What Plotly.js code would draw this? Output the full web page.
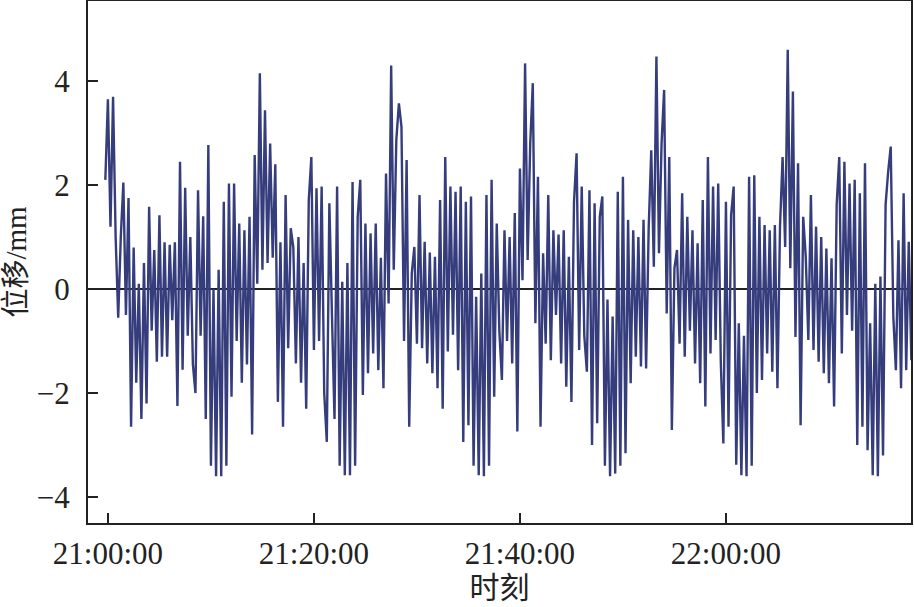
<!DOCTYPE html>
<html>
<head>
<meta charset="utf-8">
<script src="https://cdn.plot.ly/plotly-3.0.1.min.js"></script>
<style>html,body{margin:0;padding:0;background:#fff;}#chart{width:914px;height:607px;}</style>
</head>
<body>
<div id="chart"></div>
<script>
// Sampling of the displacement record
const startTime = '2000-01-01 20:59:45';
const stepSeconds = 15;

const seg1 = [2.1, 3.65, 1.2, 3.7, 1.0, -0.55, 1.0, 2.05, -0.5, 1.75, -2.65, 0.8, -1.8, 0.1, -2.5, 0.5, -2.2, 1.58, -0.8, 0.75, -1.4, 1.42, -1.3, 0.9, -1.3, 0.85, -0.6, 0.9, -2.25, 2.45, -1.55, 1.95, -0.9];
const seg2 = [1.0, -1.45, -2.0, 1.9, -0.9, 1.4, -2.5, 2.77, -3.4, 0.0, -3.6, 0.37, -3.6, 1.68, -3.4, 2.03, -2.07, 2.03, -1.0, 1.26, -1.8, 1.13, -1.45, 1.39, -2.8, 2.58, 0.1, 4.15, 0.37, 3.44, 0.5, 2.8, 0.6, 2.4, -2.17, 0.9, -2.65, 1.81, -1.14, 1.17];
const seg3 = [0.8, -1.43, 1.0, -1.8, 0.5, -2.3, 1.71, 2.54, -1.17, 1.94, -1.0, 1.97, -2.0, -2.94, 1.65, -0.5, -2.5, 1.97, -3.4, 0.14, -3.58, 0.5, -3.58, 2.06, -3.4, 1.39, 2.1, -2.04, 1.26, -1.62, 1.07, -1.24, 1.26, -1.56, 0.6, -1.91, 2.22, -0.28, 4.3];
const seg4 = [0.37, 2.87, 3.57, 3.12, -1.0, 2.48, -2.65, 0.3, 0.81, -1.05, 1.81, -1.14, 0.91, -1.43, 0.7, -1.62, 0.62, -1.91, 1.71, -2.3, 2.54, -1.2, 1.97, -0.88, 1.87, -1.56, 1.97, -2.94, 1.68, -2.62, 1.78, -3.4, -0.15, -3.58, 0.3, -3.6, 1.81, -3.4, 2.1, -2.07];
const seg5 = [1.26, -0.8, -1.75, 1.13, -1.0, 1.0, -1.43, 1.46, -2.74, 2.32, 0.17, 4.34, 0.56, 2.8, 3.96, -0.66, 2.16, -2.65, 0.69, -1.05, 1.81, -1.37, 1.13, -0.5, 1.05, -1.43, 1.13, -1.88, 0.62, -2.17, 1.68, 2.61, -1.17, 1.97, -0.9, -1.59, 1.9, -3.0, 1.65, -2.58];
const seg6 = [1.39, 1.78, -3.4, -0.2, -3.6, -0.53, -3.55, 1.87, -3.4, 2.16, -3.16, 1.33, -1.81, 1.13, -1.3, 1.0, -1.49, 1.33, -1.53, 1.17, 2.67, 0.43, 4.47, 0.69, 2.8, 3.83, -0.47, 2.54, -2.71, 0.4, 0.75, -1.05, 1.84, -1.3, 1.39, -0.8, 1.13, -1.43, 0.88, -1.81];
const seg7 = [1.71, -2.26, 2.54, -1.24, 1.97, -0.98, 2.03, -1.4, -2.97, 1.68, -2.65, 1.42, 1.97, -3.38, -0.66, -3.58, -0.9, -3.6, 2.16, -3.4, 2.19, -2.0, 1.39, -1.75, 1.23, -1.24, 1.13, -1.59, 1.23, -1.91, 1.2, 2.54, 0.81, 4.6, 0.4, 3.8, -0.92, 2.42, -2.62, 1.39];
const seg8 = [0.62, -0.98, 1.81, -1.17, 1.2, -1.4, 1.0, -1.62, 0.78, -1.81, 0.59, -2.26, 1.62, 2.54, -1.24, 2.45, -0.5, 2.03, -0.8, 2.1, -3.0, 1.84, -2.65, 2.42, -3.1, -0.66, -3.58, 0.1, -3.6, 0.24, -3.2, 1.62, 2.26, 2.74, -0.53, -1.56, 0.94, -1.91, 1.84, -1.56, 0.91, -1.37];

const xTickVals = ['2000-01-01 21:00:00', '2000-01-01 21:20:00', '2000-01-01 21:40:00', '2000-01-01 22:00:00'];
const xTickText = ['21:00:00', '21:20:00', '21:40:00', '22:00:00'];
const yTickVals = [-4, -2, 0, 2, 4];

const displacement = [].concat(seg1, seg2, seg3, seg4, seg5, seg6, seg7, seg8);

function fmt(d) {
  const p = n => String(n).padStart(2, '0');
  return d.getUTCFullYear() + '-' + p(d.getUTCMonth() + 1) + '-' + p(d.getUTCDate()) + ' ' +
    p(d.getUTCHours()) + ':' + p(d.getUTCMinutes()) + ':' + p(d.getUTCSeconds());
}
const t0 = new Date(startTime.replace(' ', 'T') + 'Z');
const times = displacement.map((_, i) => fmt(new Date(t0.getTime() + i * stepSeconds * 1000)));

const serif = 'Liberation Serif, Noto Sans CJK SC, serif';

const trace = {
  x: times,
  y: displacement,
  type: 'scatter',
  mode: 'lines',
  line: {color: '#363d7d', width: 2.4},
  hoverinfo: 'skip'
};

const layout = {
  width: 914,
  height: 607,
  margin: {l: 88, r: 3, t: 1, b: 84},
  paper_bgcolor: '#ffffff',
  plot_bgcolor: '#ffffff',
  showlegend: false,
  font: {family: serif, color: '#222222', size: 31},
  xaxis: {
    type: 'date',
    range: ['2000-01-01 20:58:04', '2000-01-01 22:17:58'],
    tickmode: 'array',
    tickvals: xTickVals,
    ticktext: xTickText,
    ticks: 'inside',
    ticklen: 10,
    tickwidth: 1.5,
    tickcolor: '#222222',
    showgrid: false,
    zeroline: false,
    showline: true,
    linecolor: '#222222',
    linewidth: 2,
    mirror: true,
    ticklabelstandoff: 2,
    tickfont: {family: serif, size: 31, color: '#222222'},
    title: {text: '时刻', font: {family: serif, size: 30, color: '#222222'}, standoff: 0}
  },
  yaxis: {
    range: [-4.5, 5.54],
    tickmode: 'array',
    tickvals: yTickVals,
    ticks: 'inside',
    ticklen: 10,
    tickwidth: 1.5,
    tickcolor: '#222222',
    showgrid: false,
    zeroline: true,
    zerolinecolor: '#222222',
    zerolinewidth: 2,
    showline: true,
    linecolor: '#222222',
    linewidth: 2,
    mirror: true,
    ticklabelstandoff: 10,
    tickfont: {family: serif, size: 31, color: '#222222'},
    title: {text: '位移/mm', font: {family: serif, size: 29, color: '#222222'}, standoff: 10}
  }
};

Plotly.newPlot('chart', [trace], layout, {displayModeBar: false, staticPlot: true});
</script>
</body>
</html>
